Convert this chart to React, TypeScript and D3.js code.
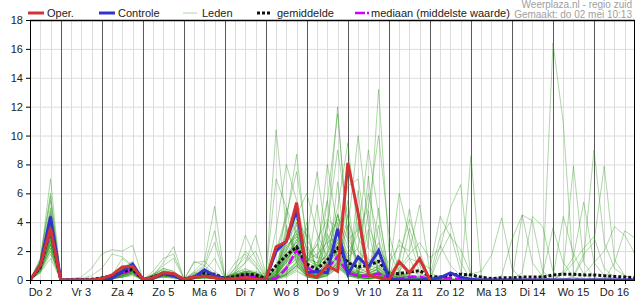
import React from 'react';
import * as d3 from 'd3';

const dayLabels = ['Do 2', 'Vr 3', 'Za 4', 'Zo 5', 'Ma 6', 'Di 7', 'Wo 8', 'Do 9', 'Vr 10', 'Za 11', 'Zo 12', 'Ma 13', 'Di 14', 'Wo 15', 'Do 16'];
const yTicks = [0, 2, 4, 6, 8, 10, 12, 14, 16, 18];
const stepHours = 6;
const totalHours = 354;

const oper = [0,1.0,3.6, 0,0,0,0, 0.1,0.35,0.9,0.95, 0.05,0.15,0.5,0.45, 0.05,0.2,0.25,0.15, 0.05,0.1,0.15,0.05, 0,2.3,2.65,5.35, 0.37,0.19,1.0,0.6, 8.1,4.6,0.35,0.15, 0,1.27,0.5,1.48, 0];
const controle = [0,1.0,4.4, 0,0,0,0, 0,0.1,0.6,1.1, 0.05,0.1,0.45,0.3, 0,0.2,0.7,0.3, 0.1,0.05,0.1,0.1, 0.05,2.0,2.7,4.85, 0.5,0.6,0.5,3.55, 0.4,1.6,0.9,2.05, 0.1,0,0,0, 0.05,0.15,0.5,0.2, 0.05,0,0,0, 0,0,0,0, 0,0,0,0, 0,0,0,0, 0];
const gemiddelde = [0,0.9,3.6, 0,0.02,0.03,0.05, 0.15,0.3,0.55,0.75, 0.05,0.2,0.45,0.4, 0.05,0.2,0.5,0.4, 0.1,0.25,0.4,0.35, 0.1,1.0,1.7,2.3, 1.1,0.75,1.4,2.2, 1.2,0.9,1.0,1.3, 0.4,0.45,0.55,0.65, 0.25,0.2,0.35,0.4, 0.35,0.2,0.1,0.15, 0.15,0.2,0.2,0.2, 0.35,0.4,0.4,0.35, 0.35,0.3,0.25,0.2, 0.15];
const mediaan = [0,0.9,3.4, 0,0,0,0, 0.1,0.2,0.45,0.7, 0,0.2,0.4,0.3, 0,0.2,0.3,0.2, 0.1,0.2,0.3,0.2, 0,0.1,0.8,2.05, 0.9,0.35,0.8,1.6, 0.5,0.3,0.3,0.45, 0.15,0.1,0.2,0.25, 0.05,0.1,0.15,0.05, 0,0,0,0, 0,0,0,0, 0,0,0,0, 0,0,0,0, 0];

const leden = [
  [0,0.8,3.2, 0,0,0,0, 0.1,0.3,0.6,0.9, 0,0.2,0.5,0.4, 0,0.3,0.4,0.2, 0.1,0.2,0.4,0.3, 0,0.4,2.6,3.8, 1.2,2.5,0.9,2.6, 0.8,0.3,0.2,0.6, 0.1,2.8,1.5,0.1, 0,0.1,0,0, 0,0,0,0.1, 0,0,0,0, 0,0,0,0, 0,0.1,0,0, 0],
  [0,1.0,4.0, 0,0,0.1,0, 0.1,0.2,0.5,0.8, 0,0.1,0.4,0.3, 0,0.2,0.6,0.3, 0.1,0.1,0.3,0.2, 0,0.2,1.5,2.2, 0.6,0.3,1.4,3.2, 1.5,0.8,2.5,13.2, 2.0,0.5,0.3,0.2, 0,0,0.1,0, 0,0,0,0, 0,0.2,0,0, 0,0,0,0, 0,0,0,0, 0],
  [0,1.2,5.0, 0,0,0,0, 0,0.1,0.4,0.7, 0,0.2,0.6,0.5, 0,0.1,0.3,0.1, 0.1,0.3,0.5,0.4, 0.1,1.8,4.2,8.7, 2.5,0.8,0.6,1.8, 0.4,0.2,0.1,0.3, 0,0.2,0.4,0.1, 0,0,0,0, 0,0.3,0,0, 0,0,0,0.2, 0,0,0,0, 0,0,0.2,0, 0],
  [0,0.6,2.6, 0,0.1,0.2,0.8, 1.8,2.1,2.0,2.4, 0.1,0.3,0.8,0.6, 0.1,0.5,0.4,0.2, 0,0.2,0.3,0.2, 0,0.1,3.5,1.6, 0.3,0.2,0.5,1.2, 0.6,0.4,1.0,0.8, 0.1,0,0,0, 0,0.2,0.4,0.1, 0,0,0,0, 0,0,0,0, 0,0.1,0,0, 0,0,0,0, 0],
  [0,0.9,3.6, 0,0,0,0, 0,0.2,0.8,1.0, 0,0.1,0.3,0.2, 0,0.1,0.2,0.1, 0,0.1,0.2,0.1, 0,0.3,1.2,2.8, 1.5,0.9,1.8,4.5, 2.2,1.4,0.8,2.6, 0.5,1.2,4.9,1.0, 0,0,0,0, 0,0,0,0, 0,0,0,0, 0,0,0,0, 0,0,0,0, 0],
  [0,1.1,4.6, 0,0,0,0, 0.1,0.2,0.5,0.6, 0,0.4,0.7,0.5, 0,0.2,0.4,0.3, 0.1,0.3,0.6,0.5, 0.2,0.6,2.8,4.2, 3.0,7.5,2.4,1.5, 0.8,0.5,0.3,0.2, 0,0,0.1,0, 0,1.8,3.2,0.6, 0,0,0.2,0, 0,0,0,0, 0,0,0,0, 0.1,0,0,0, 0],
  [0,0.7,2.8, 0,0,0,0, 0,0.1,0.3,0.5, 0,0.3,1.2,2.3, 0.1,0.2,0.3,0.2, 0,0.1,0.1,0, 0,0,0.4,1.0, 0.2,0.1,4.0,1.5, 0.3,0.1,0,0.2, 0,0,0,0, 0,0.1,0,0, 0,0,0,0, 0,0,0,0, 0,0,0,0, 0,0,0,0, 0],
  [0,1.3,7.0, 0,0,0,0, 0.1,0.3,0.6,0.8, 0,0.2,0.4,0.3, 0,0.3,0.4,0.2, 0.2,0.4,0.6,0.5, 0.3,10.4,3.5,2.0, 1.0,0.6,0.8,1.6, 0.5,0.2,0.4,0.9, 0.2,0.5,0.3,0.1, 0,0,0,0, 0,0,0,0, 0,0,0,0, 0,0,0,0, 0,0,0,0, 0],
  [0,0.8,3.4, 0,0,0,0, 0,0.1,0.3,0.6, 0,0.1,0.5,0.3, 0,0.6,1.3,5.1, 0.2,0.3,0.4,0.2, 0,0.2,0.9,1.4, 0.4,0.2,0.3,0.9, 0.2,5.0,0.6,0.1, 0,0,0,0, 0,0,0,0, 0,0,0,0, 0.1,0,0,0, 0,0,0,0, 0,0,0,0, 0],
  [0,1.0,3.8, 0,0,0,0.1, 0.2,0.4,0.7,1.1, 0,0.2,0.6,0.4, 0,0.2,0.3,0.2, 0.1,0.5,0.8,0.4, 0.1,0.5,1.8,2.6, 1.2,2.8,4.2,3.6, 1.8,3.2,9.0,4.5, 0.6,0.3,3.6,1.2, 0,0,0,0, 0,0,0,0, 0,0,0,0, 0,0,0,0, 0,0,0,0, 0],
  [0,0.5,1.5, 0,0,0,0, 0,0.1,0.2,0.4, 0,0.1,0.2,0.2, 0,0.1,0.1,0.1, 0,0,0.1,0, 0,0,0.2,0.6, 0.2,0.1,0.3,0.8, 0.4,0.6,1.2,2.0, 1.2,2.4,2.0,5.2, 0.5,0.2,0,0, 0,0,0,0, 0,0,0,0, 0,0,0,0, 0,0,0,0, 0],
  [0,0.9,3.0, 0,0,0,0, 0,0.2,0.5,0.8, 0,0.2,0.4,0.4, 0,0.1,0.3,0.2, 0,0.2,0.2,0.1, 0,0.3,1.6,2.4, 0.8,0.4,1.2,2.8, 0.6,0.2,4.8,0.2, 0,0.1,0,0, 0,0,0,0, 0,0,0,0, 0,4.5,4.1,0.6, 0,0,0,0, 0,0,0,0, 0],
  [0,1.2,4.3, 0,0,0,0, 0.1,0.2,0.4,0.7, 0,0.3,0.5,0.3, 0,1.3,1.0,0.4, 0.1,0.2,0.3,0.2, 0,0.4,2.0,3.5, 1.8,1.0,3.5,12.0, 2.5,1.5,0.8,1.2, 0.3,0.2,0.1,0, 0,0,0,0, 0,0,0,0, 0,0,0,0, 0,0,0,0, 0,0,0,0, 0],
  [0,0.7,2.4, 0,0,0,0, 0,0.1,0.4,0.6, 0,0.1,0.3,0.2, 0,0.2,0.3,0.3, 0.1,0.2,0.3,0.2, 0,0.1,0.5,1.2, 4.0,0.3,0.5,1.0, 0.5,0.3,0.2,0.4, 0,0.1,0.2,0, 0,0,0,0, 0,0,0,0, 0,0,0,0, 0,0,0,0, 0,0,1.2,3.4, 2.9],
  [0,1.0,3.6, 0,0,0,0, 0.1,0.3,0.6,0.8, 0,0.2,0.4,0.2, 0,0.3,0.5,0.2, 0.2,0.4,0.5,0.3, 0.1,0.9,2.4,3.0, 1.4,1.8,2.6,3.0, 1.6,2.2,6.0,2.8, 0.4,6.0,3.0,0.5, 0,0,0,0, 0,0,0,0, 0,0,0,0, 0,0,0,0, 0,0,0,0, 0],
  [0,1.4,6.0, 0,0,0,0, 0.1,0.4,0.8,1.2, 0.1,0.3,0.5,0.4, 0,0.4,0.6,0.3, 0.2,0.5,0.7,0.6, 0.4,7.0,5.0,3.2, 1.5,1.2,1.6,2.8, 1.0,0.6,0.4,0.5, 0.1,0.2,0.1,0, 0,0,0,0, 0,0,0,0, 0,0,0,0, 0,0,0,0, 0,0,0,0, 0],
  [0,0.6,2.2, 0,0,0,0, 0,0.1,0.2,0.3, 0,0.1,0.3,0.2, 0,0.1,0.2,0.1, 0,0.1,0.2,0.1, 0,0.1,0.4,1.0, 0.3,0.2,0.5,1.2, 3.8,0.2,0.5,0.8, 0.3,0.6,1.5,1.2, 0.8,4.4,3.0,2.1, 0.4,0,0,0, 0,0,0,0, 0,0,0,0, 0,0,0,0, 0],
  [0,0.9,3.2, 0,0,0,0, 0.1,0.2,0.4,0.6, 0,0.2,0.3,0.3, 0,0.1,0.3,0.2, 0.1,0.6,1.2,2.0, 0.3,0.5,1.4,2.2, 0.8,0.5,0.9,1.8, 0.7,0.4,0.3,0.5, 0.1,0,0,0, 0,0,0,0, 0,0,0,0, 0,0,0,0, 0,0,0,0, 0,0,0,0, 0],
  [0,1.1,4.0, 0,0,0,0, 0.1,0.2,0.5,0.9, 0,0.3,0.6,0.4, 0,0.2,0.3,0.2, 0.1,0.2,0.4,0.3, 0,0.6,2.2,3.4, 1.6,2.4,5.5,11.5, 3.0,1.2,0.8,0.6, 0.2,0.4,0.2,0.1, 0,2.4,1.0,0.3, 0,0,0,0, 0,0,0,0, 0,0,0,0, 0,0,0,0, 0],
  [0,0.8,2.8, 0,0,0,0, 0,0.1,0.3,0.6, 0,0.2,0.4,0.3, 0,0.5,1.0,3.4, 0.2,0.3,0.4,0.3, 0,0.2,1.0,1.8, 0.5,0.3,5.5,1.4, 0.4,0.2,0.1,0.3, 0,0,0,0, 0,0,0,0, 0,0,0,0, 0,0,0,0, 0,0,0,0, 0,0.2,0,0, 0],
  [0,1.0,3.4, 0,0,0,0, 0.1,0.2,0.5,0.7, 0,0.2,0.3,0.2, 0,0.1,0.2,0.1, 0,0.8,1.6,0.9, 0,0.3,1.8,2.6, 0.9,0.6,1.5,2.2, 0.9,0.5,0.6,1.0, 0.2,0.3,0.2,0.1, 0,0,0,0, 0,0,0,0, 0,0,0,0.4, 3.6,1.2,0.2,0, 0,0,0,0, 0],
  [0,1.3,5.5, 0,0,0,0, 0.1,0.3,0.7,1.0, 0,0.4,0.8,0.6, 0,0.2,0.5,0.3, 0.1,0.3,0.5,0.4, 0.2,3.5,8.0,5.5, 2.0,1.0,1.2,2.0, 0.6,0.3,0.2,0.4, 0,0.2,0,0, 0,0,0,0, 0,0,0,0, 0,0,0,0, 0,0,0,0, 0,0,0,0, 0],
  [0,0.7,2.5, 0,0,0,0, 0,0.1,0.2,0.5, 0,0.1,0.3,0.2, 0,0.1,0.2,0.1, 0,0.1,0.1,0.1, 0,0.1,0.3,4.0, 0.2,0.1,0.4,1.0, 0.3,0.2,0.4,0.6, 0.2,0.8,1.8,2.6, 1.5,2.2,5.0,6.6, 0.2,0,0,0, 0,0,0,0, 0,0,0,0, 0,0,0,0, 0],
  [0,0.9,3.0, 0,0,0,0, 0.1,0.2,0.4,0.6, 0,0.2,0.4,0.3, 0,0.3,0.4,0.3, 0.1,0.8,3.1,1.5, 0.2,0.4,1.2,2.0, 0.6,0.4,0.8,1.6, 0.5,0.3,3.5,0.2, 0,0,0,0, 0,0,0,0, 0,0,0,0, 0,0,0,0, 0,0,0,0, 0,0,0,0, 0],
  [0,1.2,4.2, 0,0,0,0, 0.1,0.3,0.5,0.8, 0,0.3,0.5,0.4, 0,0.2,0.4,0.2, 0.1,0.3,0.5,0.4, 0.1,0.8,2.6,4.0, 2.2,1.5,3.8,9.0, 4.2,2.0,1.2,1.8, 0.4,0.3,0.2,0, 0,0,0,0, 0,0,0,0, 0,0,0,0, 0,0,0,0, 0,0,0,0, 0],
  [0,0.6,2.0, 0,0,0,0, 0.1,0.3,0.8,1.3, 0.1,0.2,0.3,0.2, 0,0.1,0.2,0.1, 0,0.1,0.2,0.1, 0,0.1,0.6,1.2, 0.4,0.2,0.6,1.1, 4.5,0.3,0.2,0.3, 0,0.1,0,0, 0,0,0,0, 0,0,0,0, 0,0,0,0, 0,0.6,7.9,1.2, 0.2,0,0,0, 0],
  [0,1.0,3.8, 0,0,0,0, 0.1,0.2,0.4,0.7, 0,0.2,0.5,0.3, 0,0.3,0.3,0.2, 0.1,0.2,0.3,0.3, 0,0.4,1.6,2.8, 1.0,0.8,2.0,4.5, 2.8,3.5,5.0,10.0, 3.2,0.6,0.3,0.2, 0,0,0,0, 0,0,0,0, 0,0,0,0, 0,0,0,0, 0,0,0,0, 0],
  [0,0.8,3.0, 0,0,0,0, 0,0.2,0.5,0.7, 0,0.6,1.5,1.8, 0.1,0.3,0.5,0.3, 0.1,0.2,0.4,0.2, 0,0.2,0.9,1.6, 0.5,0.3,0.8,1.4, 0.4,6.2,0.1,0.2, 0,0,0,0, 0,0,0,0, 0,0,0,0, 0,0,0,0, 0,0,0,0, 0,0,0,0, 0],
  [0,1.1,4.5, 0,0,0,0, 0.1,0.3,0.6,0.9, 0,0.2,0.4,0.3, 0,1.2,1.3,0.6, 0.1,0.3,0.5,0.4, 0.1,0.8,2.8,4.5, 6.0,3.2,1.6,2.2, 1.0,0.6,0.4,0.8, 0.2,0.1,0,0, 0,0,0,0, 0,0,0,0, 0,0,0,0, 0,0,0,0, 0,0,0,0, 0],
  [0,0.7,2.6, 0,0,0,0, 0,0.1,0.3,0.5, 0,0.1,0.3,0.2, 0,0.1,0.2,0.2, 0,0.1,0.2,0.1, 0,0.1,5.0,1.2, 0.3,0.2,0.6,1.3, 0.6,0.3,0.2,0.5, 0.1,0.3,0.6,0.4, 0.2,0.3,0.1,0, 8.6,0.2,0,0, 0,0,0,0, 0,0,0,0, 0,0,0,0, 0],
  [0,0.9,3.4, 0,0,0.1,0.3, 0.8,1.8,1.6,1.0, 0,0.2,0.4,0.3, 0,0.2,0.3,0.2, 0.1,0.2,0.3,0.2, 0,0.3,1.4,2.4, 0.8,0.5,1.2,2.6, 1.2,0.8,0.6,1.0, 0.3,0.2,0.1,0, 0,0,0,0, 0,0,0,0, 0,0,0,0, 0,0.4,1.2,2.2, 3.0,0.8,0.2,0, 0],
  [0,1.0,3.6, 0,0,0,0, 0.1,0.2,0.4,0.6, 0,0.2,0.4,0.3, 0,0.4,0.9,2.6, 0.2,0.3,0.3,0.2, 0,0.2,0.8,1.5, 0.4,0.3,0.7,1.3, 0.4,0.2,0.1,5.0, 0,0,0,0, 0,0,0,0, 0,0,0,0, 0,0,0,0, 0,0,0,0, 0,0,0,0, 0],
  [0,0.5,1.8, 0,0,0,0, 0,0.1,0.2,0.4, 0,0.1,0.2,0.1, 0,0.1,0.1,0.1, 0,0.1,0.1,0.1, 0,0.1,0.3,0.7, 0.2,0.1,0.3,4.0, 0.3,0.1,0.1,0.2, 0,0,0,0, 0,0,0,0, 0,0,0,0, 0,0,0,0, 0,0.5,1.6,5.4, 1.2,0.3,0,0, 0],
  [0,1.2,4.8, 0,0,0,0, 0.1,0.3,0.6,1.0, 0,0.3,0.6,0.5, 0,0.3,0.4,0.3, 0.1,0.4,0.6,0.5, 0.2,1.0,3.2,4.8, 2.0,1.5,8.0,3.5, 1.2,0.8,0.5,0.7, 0.2,0.1,0,0, 0,0,0,0, 0,0,0,0, 0,0,0,0, 0,0,0,0, 0,0,0,0, 0],
  [0,0.8,2.8, 0,0,0,0, 0,0.2,0.4,0.6, 0,0.2,0.3,0.2, 0,0.2,0.2,0.1, 0,0.1,0.2,0.1, 0,0.2,0.6,1.3, 0.4,5.2,0.5,1.2, 0.5,0.3,0.2,0.3, 0,0,0,0, 0,0,0,0.2, 0.4,0.6,1.7,4.3, 0.8,0,0,0, 0,0,0,0, 0,0,0,0, 0],
  [0,0.9,3.2, 0,0,0,0, 0.1,0.2,0.5,0.7, 0,0.2,0.4,0.3, 0,0.2,0.4,0.3, 0.1,0.4,1.2,3.1, 0.4,0.6,1.6,2.4, 0.7,0.4,1.0,2.0, 0.8,4.0,0.3,0.4, 0.1,0,0,0, 0,0,0,0, 0,0,0,0, 0,0,0,0, 0,0,0,0, 0,0,0,0, 0],
  [0,1.1,4.0, 0,0,0,0, 0.1,0.3,0.5,0.8, 0,0.2,0.5,0.4, 0,0.2,0.3,0.2, 0.1,0.3,0.4,0.3, 0.1,0.7,2.2,3.2, 1.4,1.0,2.4,5.0, 9.5,3.0,1.4,1.2, 0.3,0.2,0.1,0, 0,0,0,0, 0,0,0,0, 0,0,0,0, 0,0,0,0, 0,0,0,0, 0],
  [0,0.7,2.4, 0,0,0,0, 0,0.1,0.3,0.5, 0,0.1,0.3,0.2, 0,0.1,0.2,0.1, 0,0.1,0.2,0.1, 0,0.1,0.4,0.9, 0.3,0.2,0.4,6.8, 0.4,0.2,0.1,0.2, 0,0,0,0, 0,0,0,0, 0,0,0,0, 0,0,0,0, 0,0,0.2,1.5, 9.0,2.6,0.8,0.3, 0],
  [0,1.0,3.8, 0,0,0,0, 0.1,0.2,0.5,0.8, 0,0.3,0.5,0.3, 0,0.2,0.3,0.2, 0.1,1.2,1.8,1.0, 0,0.5,1.8,3.0, 1.2,0.9,1.8,3.4, 6.5,7.0,2.2,1.6, 0.5,0.3,0.2,0.1, 0,0,0,0, 0,0,0,0, 0,0,0,0, 0,0,0,0, 0,0,0,0, 0],
  [0,0.6,2.2, 0,0,0,0, 0,0.1,0.2,0.4, 0,0.1,0.2,0.2, 0,0.1,0.2,0.1, 0,0.1,0.1,0.1, 0,0.1,0.3,0.8, 3.6,0.1,0.3,0.9, 0.3,0.2,0.1,0.2, 0,0,0,0, 0,0,0,0, 0,0,0,0.3, 2.8,4.5,1.2,0.2, 0,0,0,0, 0,0,0,0, 0],
  [0,1.5,5.8, 0,0,0,0, 0.1,0.4,0.7,1.0, 0,0.3,0.6,0.5, 0,0.3,0.5,0.3, 0.2,0.4,0.6,0.5, 0.2,2.0,4.5,7.5, 2.8,1.6,1.4,2.4, 0.8,0.4,0.3,0.5, 0.1,1.6,4.2,2.0, 0,0,0,0, 0,0,0,0, 0,0,0,0, 0,0,0,0, 0,0,0,0, 0],
  [0,0.8,3.0, 0,0,0,0, 0,0.2,0.4,0.6, 0,0.2,0.3,0.3, 0,0.3,0.6,1.5, 0.1,0.2,0.3,0.2, 0,0.2,0.9,1.7, 0.5,0.3,0.8,1.6, 5.5,0.3,0.2,0.3, 0,0,0,0, 0,0,0,0, 0,0,0,0, 0,0,0,0, 0,0,0,0, 0,0,0,0, 0],
  [0,0.9,3.4, 0,0,0,0, 0.1,0.2,0.5,0.7, 0,0.2,0.4,0.3, 0,0.2,0.3,0.2, 0.1,0.2,0.3,0.2, 0,0.3,1.3,2.2, 0.7,0.4,1.0,2.0, 0.7,0.4,0.3,0.5, 0.1,0,0,0, 0,0,0,0, 0,0,0,0, 0,0,0,0, 0.2,4.4,1.8,0.4, 0,0,0,0, 0],
  [0,1.0,2.5, 0,0,0,0, 0,0.1,0.3,0.5, 0,0.1,0.3,0.2, 0,0.1,0.2,0.1, 0,0.1,0.2,0.1, 0,0.2,0.5,1.1, 0.3,0.2,3.2,1.1, 0.4,0.2,0.1,0.2, 0,0,0,0, 0,0,0,0, 0,0,0,0, 0,0.5,4.4,3.7, 0.6,0,0,0, 0,0,0,0, 0],
  [0,0.7,2.0, 0,0,0,0, 0,0.3,1.5,0.9, 0,0.1,0.3,0.2, 0,0.1,0.2,0.1, 0,0.1,0.2,0.1, 0,0.1,0.4,1.0, 0.3,0.2,0.4,1.0, 0.4,0.2,0.1,3.8, 0,0,0,0, 0,0,0,0, 0,0,0,0, 0,0,0,0, 0,0,0.3,1.8, 2.6,7.9,1.4,0.3, 0],
  [0,1.2,4.4, 0,0,0,0, 0.1,0.3,0.6,0.9, 0,0.3,0.5,0.4, 0,0.2,0.4,0.2, 0.1,0.3,0.5,0.4, 0.1,0.6,2.0,3.2, 1.5,1.2,2.8,4.2, 3.5,10.0,3.8,2.0, 0.6,0.4,0.2,0.1, 0.3,3.0,4.0,1.2, 0,0,0,0, 0,0,0,0, 0,0,0,0, 0,0,0,0, 0],
  [0,0.8,3.6, 0,0,0,0, 0.1,0.2,0.4,0.6, 0,0.2,0.4,0.3, 0,0.2,0.3,0.2, 0.1,0.5,2.0,1.2, 0.2,0.4,1.2,2.0, 0.6,0.4,0.9,4.6, 0.6,0.3,0.2,0.4, 0.1,0,0,0, 0,0,0,0, 0,0,0,0, 0,0,0,0, 0,0,0,0, 0,0,0,0, 0],
  [0,1.0,3.2, 0,0,0,0, 0.1,0.2,0.4,0.7, 0,0.2,0.4,0.3, 0,0.2,0.3,0.2, 0.1,0.2,0.3,0.2, 0,0.3,1.4,2.4, 0.8,0.5,1.1,2.2, 0.8,0.4,0.3,0.6, 0.1,0,0,0, 0,0,0,0, 0,0,0,0, 0,0,0,0.1, 16.4,10.9,0.5,0.1, 0,0,0,0, 0],
  [0,0.6,2.8, 0,0,0,0, 0,0.1,0.3,0.5, 0,0.1,0.3,0.2, 0,0.1,0.2,0.1, 0,0.1,0.2,0.1, 0,0.2,3.8,1.2, 0.4,0.2,0.5,1.1, 0.4,0.2,0.1,0.2, 0,0,0,0, 0,0,0,0, 0,0,0,0, 0,0,0,0, 0,0,0,0.4, 1.2,2.0,3.7,3.1, 1.8],
  [0,0.9,3.0, 0,0,0,0, 0.1,0.2,0.4,0.6, 0,0.4,1.0,1.5, 0.1,0.3,0.4,0.2, 0.1,0.2,0.3,0.2, 0,0.3,1.0,1.8, 0.6,0.3,0.8,1.5, 0.5,0.3,7.2,0.3, 0.1,0,0,0, 0,0,0,0, 0,0,0,0, 0,0,0,0, 0,0,0,0, 0,0,0,0, 0],
];

const FONT = 'Liberation Sans, Arial, Helvetica, sans-serif';
const L = 30, R = 635, T = 20, B = 280;
const GREEN = 'rgb(45,150,25)';

export default function App() {
  const x = d3.scaleLinear().domain([0, totalHours]).range([L, R]);
  const y = d3.scaleLinear().domain([0, 18]).range([B, T]);
  const line = d3.line<number>().x((_, i) => x(i * stepHours)).y((d) => y(d));
  const gridHours = d3.range(0, totalHours + 1, stepHours);
  const isDay = (h: number) => (h - 18) % 24 === 0;

  return (
    <div style={{ position: 'absolute', left: 0, top: 0 }}>
      <svg width={635} height={300} style={{ display: 'block', background: '#fff' }} fontFamily={FONT}>
        <defs>
          <clipPath id="plot"><rect x={L} y={T} width={R - L} height={B - T} /></clipPath>
        </defs>
        <rect x={0} y={0} width={635} height={300} fill="#fff" />
        {yTicks.map((t) => (
          <line key={'h' + t} x1={L} x2={R} y1={y(t) + 0.5} y2={y(t) + 0.5} stroke="#dcdcdc" strokeWidth={1} />
        ))}
        {gridHours.filter((h) => !isDay(h)).map((h) => (
          <line key={'v' + h} x1={Math.round(x(h)) + 0.5} x2={Math.round(x(h)) + 0.5} y1={T} y2={B} stroke="#dcdcdc" strokeWidth={1} />
        ))}
        {gridHours.filter((h) => isDay(h)).map((h) => (
          <line key={'d' + h} x1={Math.round(x(h)) + 0.5} x2={Math.round(x(h)) + 0.5} y1={T} y2={B} stroke="#5a5a5a" strokeWidth={1} />
        ))}
        <g clipPath="url(#plot)">
          {leden.map((m, k) => (
            <path key={'m' + k} d={line(m) || ''} fill="none" stroke={GREEN} strokeOpacity={0.38} strokeWidth={1} />
          ))}
          <path d={line(mediaan) || ''} fill="none" stroke="#d400ff" strokeWidth={2.5} strokeDasharray="9,3" />
          <path d={line(gemiddelde) || ''} fill="none" stroke="#111" strokeWidth={3} strokeDasharray="3,2" />
          <path d={line(controle) || ''} fill="none" stroke="#3333cc" strokeWidth={3} />
          <path d={line(oper) || ''} fill="none" stroke="#d33333" strokeWidth={3} />
        </g>
        <line x1={L} x2={R} y1={T + 0.5} y2={T + 0.5} stroke="#000" strokeWidth={1.5} />
        <line x1={L + 0.5} x2={L + 0.5} y1={T} y2={B + 1} stroke="#000" strokeWidth={1} />
        <line x1={R - 0.5} x2={R - 0.5} y1={T} y2={B} stroke="#000" strokeWidth={1} />
        <line x1={L} x2={R} y1={B + 0.5} y2={B + 0.5} stroke="#000" strokeWidth={1} />
        {gridHours.map((h) => (
          <line key={'bt' + h} x1={Math.round(x(h)) + 0.5} x2={Math.round(x(h)) + 0.5} y1={B} y2={B + 4} stroke="#000" strokeWidth={1} />
        ))}
        {yTicks.map((t) => (
          <g key={'yt' + t}>
            <line x1={L - 4} x2={L} y1={y(t) + 0.5} y2={y(t) + 0.5} stroke="#000" />
            <text x={L - 7} y={y(t) + 4} fontSize={11} textAnchor="end" fill="#222">{t}</text>
          </g>
        ))}
        {dayLabels.map((d, k) => (
          <text key={d} x={x(6 + 24 * k)} y={296} fontSize={11} textAnchor="middle" fill="#222">{d}</text>
        ))}
        <g fontSize={11} fill="#222">
          <line x1={28} x2={44} y1={13} y2={13} stroke="#d33333" strokeWidth={3} />
          <text x={47} y={17}>Oper.</text>
          <line x1={99} x2={115} y1={13} y2={13} stroke="#3333cc" strokeWidth={3} />
          <text x={118} y={17}>Controle</text>
          <line x1={183} x2={197} y1={13} y2={13} stroke={GREEN} strokeOpacity={0.38} strokeWidth={1} />
          <text x={202} y={17}>Leden</text>
          <line x1={257} x2={270} y1={13} y2={13} stroke="#111" strokeWidth={3} strokeDasharray="3,2" />
          <text x={277} y={17}>gemiddelde</text>
          <line x1={355} x2={369} y1={13} y2={13} stroke="#d400ff" strokeWidth={2.5} strokeDasharray="10,2" />
          <text x={371} y={17}>mediaan (middelste waarde)</text>
        </g>
        <text x={632} y={7.5} fontSize={10} textAnchor="end" fill="#a0a0a0">Weerplaza.nl - regio zuid</text>
        <text x={632} y={18} fontSize={10} textAnchor="end" fill="#a0a0a0">Gemaakt: do 02 mei 10:13</text>
      </svg>
    </div>
  );
}
